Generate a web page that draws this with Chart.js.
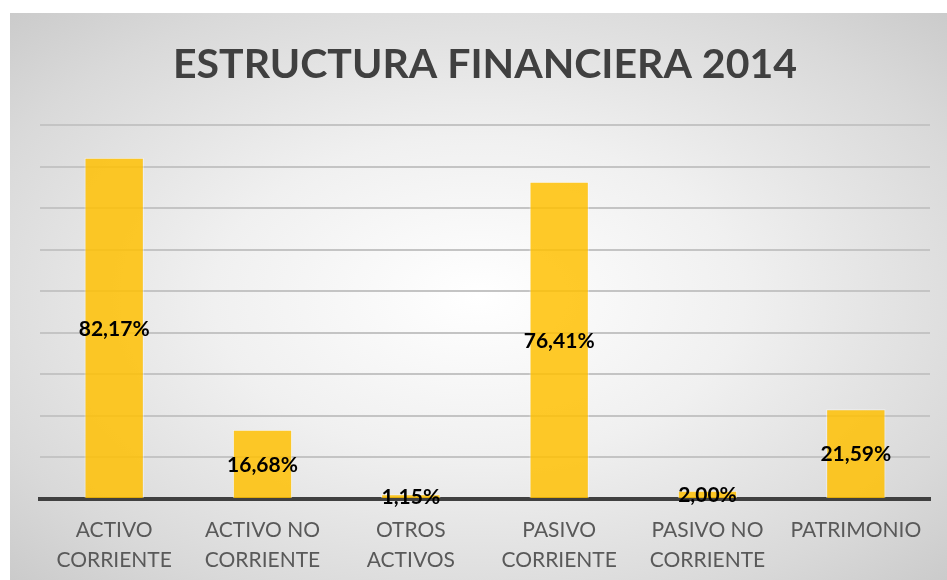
<!DOCTYPE html>
<html>
<head>
<meta charset="utf-8">
<script src="https://cdn.jsdelivr.net/npm/chart.js@4.4.1/dist/chart.umd.min.js"></script>
<style>
  body { margin: 0; background: #fff; }
  #wrap {
    position: absolute; left: 10px; top: 13px; width: 937px; height: 567px;
    background: radial-gradient(ellipse at 50% 50%, #ffffff 0%, #f0f0f0 40%, #d9d9d9 80%, #cbcbcb 100%);
  }
</style>
</head>
<body>
<div id="wrap"><canvas id="chart"></canvas></div>
<script>
// datos del grafico
const categories = [
    ["ACTIVO", "CORRIENTE"],
    ["ACTIVO NO", "CORRIENTE"],
    ["OTROS", "ACTIVOS"],
    ["PASIVO", "CORRIENTE"],
    ["PASIVO NO", "CORRIENTE"],
    ["PATRIMONIO"]
];
const values = [82.17, 16.68, 1.15, 76.41, 2.00, 21.59];
const yMax = 90;
const yStep = 10;

// etiquetas en el centro de cada barra
const centerLabels = {
    id: "centerLabels",
    afterDatasetsDraw(chart) {
        const ctx = chart.ctx;
        const meta = chart.getDatasetMeta(0);
        ctx.save();
        ctx.font = "bold 21px Lato";
        ctx.fillStyle = "#000";
        ctx.textAlign = "center";
        ctx.textBaseline = "middle";
        meta.data.forEach((bar, i) => {
            const txt = values[i].toFixed(2).replace(".", ",") + "%";
            ctx.fillText(txt, bar.x, (bar.y + bar.base) / 2 + 1);
        });
        ctx.restore();
    }
};

const ctx = document.getElementById("chart").getContext("2d");
new Chart(ctx, {
    type: "bar",
    data: {
        labels: categories,
        datasets: [{
            data: values,
            backgroundColor: "rgba(255, 192, 0, 0.84)",
            borderColor: "rgba(255, 255, 255, 0.5)",
            borderWidth: 1,
            categoryPercentage: 1,
            barPercentage: 0.4
        }]
    },
    options: {
        responsive: true,
        maintainAspectRatio: false,
        animation: false,
        layout: { padding: { left: 30, right: 17, top: 0, bottom: 0 } },
        plugins: {
            legend: { display: false },
            tooltip: { enabled: false },
            title: {
                display: true,
                text: "ESTRUCTURA FINANCIERA 2014",
                color: "#404040",
                font: { family: "Lato", size: 41, weight: "bold", lineHeight: 1.2 },
                padding: { top: 27, bottom: 36 }
            }
        },
        scales: {
            x: {
                grid: { display: false, drawTicks: false },
                border: { display: true, color: "#404040", width: 4 },
                ticks: {
                    color: "#595959",
                    padding: 17,
                    maxRotation: 0,
                    font: { family: "Lato", size: 21, lineHeight: 1.4 }
                },
                afterFit(scale) { scale.height = 81; }
            },
            y: {
                min: 0,
                max: yMax,
                ticks: { display: false, stepSize: yStep },
                border: { display: false },
                grid: { color: "#c4c4c4", lineWidth: 2, drawTicks: false }
            }
        }
    },
    plugins: [centerLabels]
});
</script>
</body>
</html>
